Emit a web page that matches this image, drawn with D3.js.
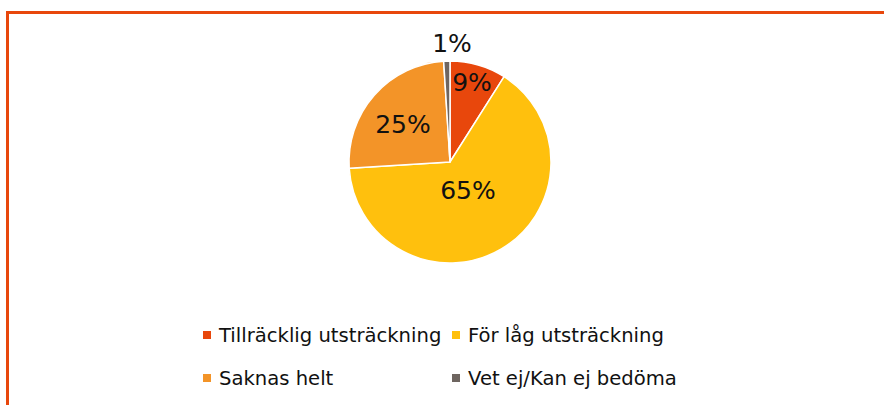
<!DOCTYPE html>
<html><head><meta charset="utf-8">
<script src="https://cdn.jsdelivr.net/npm/d3@7"></script>
<style>body{margin:0;background:#fff;} svg{display:block;}</style>
</head><body>
<svg id="c" width="884" height="405"></svg>
<script>
const categories = ["Tillräcklig utsträckning", "För låg utsträckning", "Saknas helt", "Vet ej/Kan ej bedöma"];
const values = [9, 65, 25, 1];
const labels = ["9%", "65%", "25%", "1%"];
const colors = ["#E8470C", "#FFC00D", "#F39428", "#6E6560"];

const svg = d3.select("#c");
const font = "'DejaVu Sans', Verdana, sans-serif";

// frame
svg.append("path").attr("d", "M7.5,405 V12.5 H884")
  .attr("fill", "none").attr("stroke", "#E8470C").attr("stroke-width", 3);

const cx = 450, cy = 162, r = 101;
const data = categories.map((c, i) => ({cat: c, value: values[i], label: labels[i], color: colors[i]}));
const pie = d3.pie().value(d => d.value).sort(null);
const arcs = pie(data);
const arc = d3.arc().innerRadius(0).outerRadius(r);
const g = svg.append("g").attr("transform", `translate(${cx},${cy})`);
g.selectAll("path").data(arcs).join("path")
  .attr("d", arc).attr("fill", d => d.data.color)
  .attr("stroke", "#fff").attr("stroke-width", 1.5).attr("stroke-linejoin", "round");

const labelPos = [[22, -80], [18, 28], [-47, -38], [2, -119]];
g.selectAll("text").data(arcs).join("text")
  .attr("x", (d, i) => labelPos[i][0]).attr("y", (d, i) => labelPos[i][1])
  .attr("text-anchor", "middle").attr("dominant-baseline", "central")
  .attr("font-family", font).attr("font-size", 25).attr("fill", "#111")
  .text(d => d.data.label);

// legend
const legPos = [[203, 335], [452, 335], [203, 378], [452, 378]];
const lg = svg.append("g");
data.forEach((d, i) => {
  const [x, y] = legPos[i];
  lg.append("rect").attr("x", x).attr("y", y - 4).attr("width", 8).attr("height", 8).attr("fill", d.color);
  lg.append("text").attr("x", x + 16).attr("y", y).attr("dominant-baseline", "central")
    .attr("font-family", font).attr("font-size", 19.6).attr("fill", "#111").text(d.cat);
});
</script>
</body></html>
